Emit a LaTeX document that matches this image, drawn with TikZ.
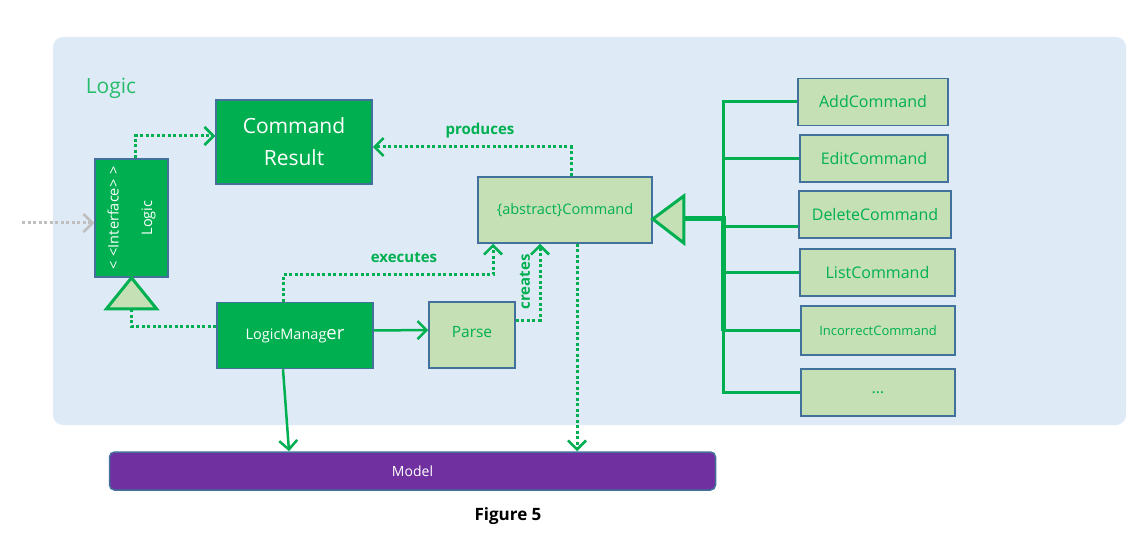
\documentclass[tikz,border=0pt]{standalone}
\usepackage{fontspec}
\setmainfont{Open Sans}
\usepackage{tikz}
\usetikzlibrary{arrows.meta,calc}

\definecolor{panelblue}{HTML}{DEEBF7}
\definecolor{umlgreen}{HTML}{00B050}
\definecolor{palegreen}{HTML}{C5E0B4}
\definecolor{edgeblue}{HTML}{41719C}
\definecolor{modelpurple}{HTML}{7030A0}
\definecolor{extgrey}{HTML}{BFBFBF}
\newcommand{\pxsize}[1]{\fontsize{#1}{#1}\selectfont}

\begin{document}
\begin{tikzpicture}[
x=1pt, y=-1pt,
solidbox/.style={draw=edgeblue, line width=1.5pt, fill=umlgreen, text=white, inner sep=0pt},
palebox/.style={draw=edgeblue, line width=1.5pt, fill=palegreen, text=umlgreen, inner sep=0pt},
subbox/.style={palebox, minimum height=47pt, font=\pxsize{16}},
openhead/.style={-{Straight Barb[length=9pt,width=18pt,line width=2.5pt]}},
dotarrow/.style={umlgreen, line width=3pt, dash pattern=on 3pt off 2.5pt, openhead},
solidarrow/.style={umlgreen, line width=2.5pt, openhead},
hollowtri/.style={draw=umlgreen, fill=palegreen, line width=3pt, line join=miter},
inherit/.style={umlgreen, line width=3pt},
edgelabel/.style={text=umlgreen, font=\bfseries\pxsize{15}}]

\useasboundingbox (0,0) rectangle (1143,540);
\fill[panelblue, rounded corners=10pt] (53,37) rectangle (1126,425);
\node [text=umlgreen!85, font=\pxsize{21}] (title) at (111,88) {Logic};

% main classes
\node [solidbox, minimum width=156pt, minimum height=84pt, align=center,
       font=\pxsize{21}] (result) at (294,142) {Command\\[11pt]Result};
\node [solidbox, minimum width=73pt, minimum height=118pt] (iface) at (131.5,218) {};
\node [rotate=90, align=center, text=white, font=\pxsize{14.5}] (ifacetext) at (iface)
      {<\,\,<Interface>\,\,>\\[19pt]Logic};
\node [solidbox, minimum width=156pt, minimum height=66pt,
       font=\pxsize{14.5}] (mgr) at (295,335.5) {LogicManag{\pxsize{18.5}er}};
\node [palebox, minimum width=174pt, minimum height=66pt,
       font=\pxsize{14.5}] (cmd) at (565,210) {\{abstract\}Command};
\node [palebox, minimum width=86pt, minimum height=66pt,
       font=\pxsize{15.5}] (parse) at (472,335) {\raisebox{6pt}{Parse}};
\node [draw=edgeblue, line width=1.5pt, fill=modelpurple, text=white, rounded corners=5pt,
       minimum width=606pt, minimum height=38pt, font=\pxsize{14}] (model) at (412.5,471) {Model};

% subclasses
\node [subbox, minimum width=150pt] (add) at (873,102) {AddCommand};
\node [subbox, minimum width=148pt] (edit) at (874,158.5) {EditCommand};
\node [subbox, minimum width=152pt] (delete) at (875,214.5) {DeleteCommand};
\node [subbox, minimum width=155pt] (list) at (877.5,272.5) {ListCommand};
\node [subbox, minimum width=154pt, minimum height=49pt,
       font=\pxsize{13}] (incorrect) at (878,330.5) {IncorrectCommand};
\node [subbox, minimum width=154pt] (more) at (878,392.5) {\dots};

% interface realisation
\draw [hollowtri] (iface.south) -- ++(-25,31) coordinate (ibl) -- ++(50,0) coordinate (ibr) -- cycle;
\coordinate (ibase) at ($(ibl)!0.5!(ibr)$);
\draw [umlgreen, line width=3pt, dash pattern=on 3pt off 2.5pt]
      ([yshift=9pt]mgr.west) -| (ibase);

% dependencies
\coordinate (ext) at (22,223);
\draw [dotarrow, extgrey] (ext) -- (ext -| iface.west);
\draw [dotarrow] ([xshift=3.5pt]iface.north) |- ([yshift=6pt]result.west);
\draw [dotarrow] ([xshift=6pt]cmd.north) |- ([yshift=-5pt]result.east);
\draw [dotarrow] ([xshift=-12pt]mgr.north) -- ++(0,-27) -| ([xshift=-72pt]cmd.south);
\draw [dotarrow] ([yshift=15pt]parse.east) -| ([xshift=-25pt]cmd.south);
\draw [dotarrow] ([xshift=12pt]cmd.south) -- ([xshift=12pt]cmd.south |- model.north);
\draw [solidarrow] ([yshift=5pt]mgr.east) -- ([yshift=5pt]parse.west);
\draw [solidarrow] ([xshift=-12pt]mgr.south) -- ([xshift=-123.5pt]model.north);

\node [edgelabel] (produces) at (480,131) {produces};
\node [edgelabel] (executes) at (404,258) {executes};
\node [edgelabel, rotate=90] (creates) at (525,282) {creates};

% generalisation
\coordinate (apex) at ([yshift=-9pt]cmd.east);
\coordinate (tribase) at ($(apex)+(31,0)$);
\coordinate (bus) at ($(apex)+(71,0)$);
\foreach \n in {add,edit,list,incorrect,more}
  \draw [inherit] (bus) |- (\n.west);
\draw [inherit] (bus) |- ([yshift=-12pt]delete.west);
\draw [inherit, line width=5pt] (tribase) -- (bus) -- (bus |- incorrect.west);
\draw [hollowtri] (apex) -- ++(31,-23) -- ++(0,47) -- cycle;

\node [font=\bfseries\pxsize{17}] (caption) at (508,516) {Figure 5};
\end{tikzpicture}
\end{document}
